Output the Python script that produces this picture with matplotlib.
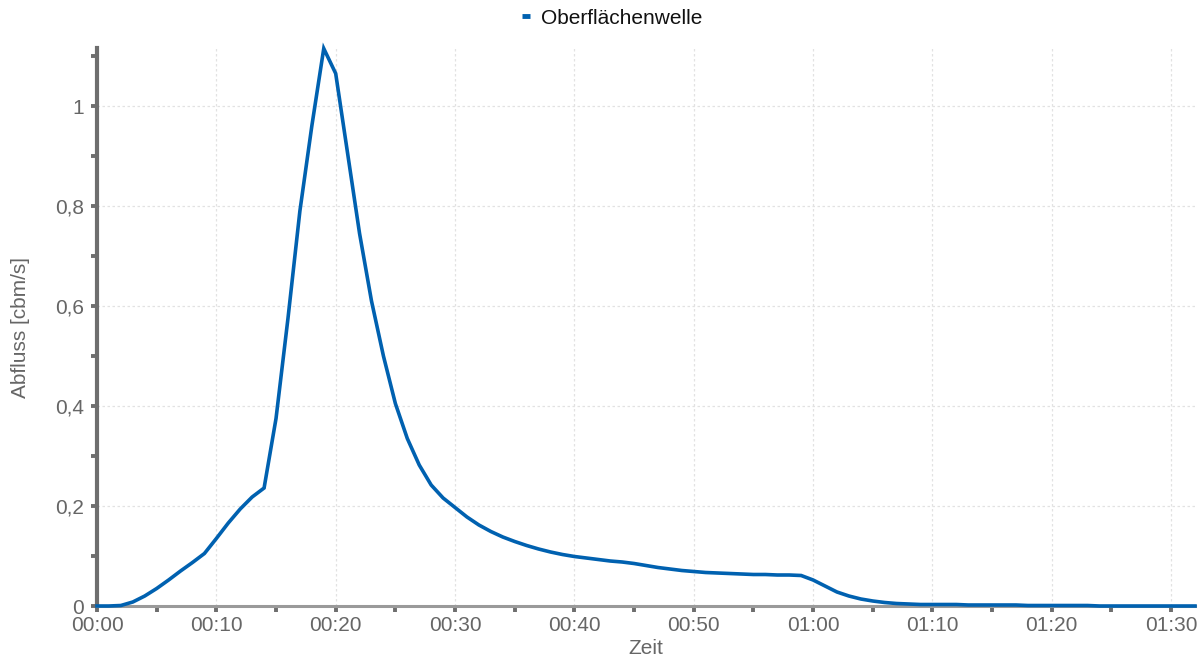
import matplotlib
matplotlib.use("Agg")
import matplotlib.pyplot as plt
from matplotlib.lines import Line2D

# ---- data (minutes after start, discharge in cbm/s) ----
minutes = list(range(0, 93))
abfluss = [
    0.000, 0.000, 0.001, 0.008, 0.020, 0.035, 0.052, 0.070, 0.087, 0.105,   # 0-9
    0.135, 0.166, 0.194, 0.218, 0.236, 0.375, 0.575, 0.790, 0.960, 1.115,   # 10-19
    1.065, 0.905, 0.745, 0.610, 0.500, 0.405, 0.335, 0.282, 0.242, 0.216,   # 20-29
    0.197, 0.178, 0.162, 0.149, 0.138, 0.129, 0.121, 0.114, 0.108, 0.103,   # 30-39
    0.099, 0.096, 0.093, 0.090, 0.088, 0.085, 0.081, 0.077, 0.074, 0.071,   # 40-49
    0.069, 0.067, 0.066, 0.065, 0.064, 0.063, 0.063, 0.062, 0.062, 0.061,   # 50-59
    0.052, 0.040, 0.028, 0.020, 0.014, 0.010, 0.007, 0.005, 0.004, 0.003,   # 60-69
    0.003, 0.003, 0.003, 0.002, 0.002, 0.002, 0.002, 0.002, 0.001, 0.001,   # 70-79
    0.001, 0.001, 0.001, 0.001, 0.000, 0.000, 0.000, 0.000, 0.000, 0.000,   # 80-89
    0.000, 0.000, 0.000,                                                    # 90-92
]
series_name = "Oberflächenwelle"
x_tick_minutes = [0, 10, 20, 30, 40, 50, 60, 70, 80, 90]
x_tick_labels = ["00:00", "00:10", "00:20", "00:30", "00:40", "00:50",
                 "01:00", "01:10", "01:20", "01:30"]
y_ticks = [0, 0.2, 0.4, 0.6, 0.8, 1.0]
y_tick_labels = ["0", "0,2", "0,4", "0,6", "0,8", "1"]
x_label = "Zeit"
y_label = "Abfluss [cbm/s]"

plt.rcParams['font.family'] = ['Liberation Sans', 'DejaVu Sans']

W, H = 1201, 663
fig = plt.figure(figsize=(W / 100, H / 100), dpi=100)
ax = fig.add_axes([97 / W, (H - 606) / H, (1195 - 97) / W, (606 - 48) / H])

line_color = "#0061b0"
axis_color = "#6e6e6e"
text_color = "#666666"

ax.plot(minutes, abfluss, color=line_color, lw=2.6, zorder=5, clip_on=False,
        solid_joinstyle="miter")

ax.set_xlim(0, 92.0)
ax.set_ylim(0, 1.116)

# grid
ax.set_xticks(x_tick_minutes)
ax.set_xticklabels(x_tick_labels)
ax.set_xticks(list(range(0, 93, 5)), minor=True)
ax.set_yticks(y_ticks)
ax.set_yticklabels(y_tick_labels)
ax.set_yticks([i / 10 for i in range(0, 12)], minor=True)
ax.grid(True, which="major", color="#e2e2e2", lw=0.9, ls=(0, (2, 2)))

# spines
for s in ["top", "right"]:
    ax.spines[s].set_visible(False)
ax.spines["left"].set_color(axis_color)
ax.spines["left"].set_linewidth(3.0)
ax.spines["bottom"].set_color("#9a9a9a")
ax.spines["bottom"].set_linewidth(2.2)

ax.tick_params(axis="x", which="both", direction="out", length=4.5, width=2.8,
               color=axis_color, labelsize=15, labelcolor=text_color, pad=2.8)
ax.tick_params(axis="y", which="both", direction="out", length=4.5, width=2.8,
               color=axis_color, labelsize=15, labelcolor=text_color, pad=5)

ax.set_xlabel(x_label, fontsize=15, color=text_color, labelpad=3)
ax.set_ylabel(y_label, fontsize=15, color=text_color, labelpad=18)

# legend
handle = Line2D([0], [0], color=line_color, lw=3.5, solid_capstyle="butt")
fig.legend([handle], [series_name], loc="center", bbox_to_anchor=(612 / W, 1 - 18 / H),
           frameon=False, fontsize=15, handlelength=0.4, handletextpad=0.5,
           labelcolor="#111111")

fig.savefig("out.png", dpi=100)
